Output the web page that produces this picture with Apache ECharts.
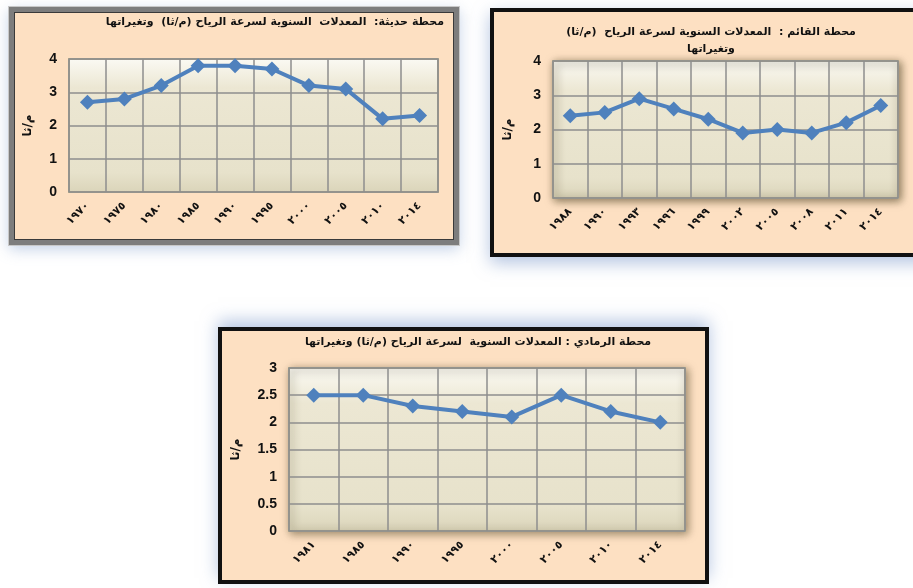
<!DOCTYPE html>
<html>
<head>
<meta charset="utf-8">
<script src="https://cdn.jsdelivr.net/npm/echarts@6/dist/echarts.min.js"></script>
<style>
  html, body { margin: 0; padding: 0; background: #fff; width: 913px; height: 588px; overflow: hidden; position: relative; }
  .box { position: absolute; background: #fde0c2; box-sizing: content-box; }
  #c1 { left: 9px; top: 7px; width: 440px; height: 228px; border: 5px solid #7d7d7d; box-shadow: inset 0 0 0 1px #3a3a3a, 0 0 0 1px #c8c8c8, 0 4px 14px rgba(120,150,200,0.45); }
  #c2 { left: 490px; top: 8px; width: 440px; height: 241px; border: 4px solid #111; box-shadow: 0 6px 16px rgba(120,150,200,0.55); }
  #c3 { left: 218px; top: 327px; width: 483px; height: 249px; border: 4px solid #111; box-shadow: 0 -6px 16px rgba(120,150,200,0.55); }
</style>
</head>
<body>
<div id="c1" class="box"></div>
<div id="c2" class="box"></div>
<div id="c3" class="box"></div>
<script>
// محطة حديثة
var yearsHaditha = ['١٩٧٠', '١٩٧٥', '١٩٨٠', '١٩٨٥', '١٩٩٠', '١٩٩٥', '٢٠٠٠', '٢٠٠٥', '٢٠١٠', '٢٠١٤'];
var windHaditha = [2.7, 2.8, 3.2, 3.8, 3.8, 3.7, 3.2, 3.1, 2.2, 2.3];
// محطة القائم
var yearsQaim = ['١٩٨٨', '١٩٩٠', '١٩٩٣', '١٩٩٦', '١٩٩٩', '٢٠٠٢', '٢٠٠٥', '٢٠٠٨', '٢٠١١', '٢٠١٤'];
var windQaim = [2.4, 2.5, 2.9, 2.6, 2.3, 1.9, 2.0, 1.9, 2.2, 2.7];
// محطة الرمادي
var yearsRamadi = ['١٩٨١', '١٩٨٥', '١٩٩٠', '١٩٩٥', '٢٠٠٠', '٢٠٠٥', '٢٠١٠', '٢٠١٤'];
var windRamadi = [2.5, 2.5, 2.3, 2.2, 2.1, 2.5, 2.2, 2.0];

var unitName = 'م/ثا';

function makeOption(cfg) {
    return {
        animation: false,
        graphic: cfg.titles.map(function (t) {
            return {
                type: 'text', x: t.x, y: t.y,
                style: {
                    text: t.text, font: 'bold 11px "DejaVu Sans", Arial', fill: '#111',
                    align: t.align || 'center', verticalAlign: 'top'
                }
            };
        }),
        grid: {
            left: cfg.grid[0], top: cfg.grid[1], width: cfg.grid[2], height: cfg.grid[3],
            show: true,
            borderColor: '#a9a38a',
            borderWidth: 2,
            shadowColor: cfg.shadow,
            shadowBlur: 8,
            shadowOffsetX: 2,
            shadowOffsetY: 2,
            backgroundColor: {
                type: 'linear', x: 0, y: 0, x2: 0, y2: 1,
                colorStops: [
                    { offset: 0, color: '#fbfaf4' },
                    { offset: 0.22, color: '#ece7d3' },
                    { offset: 0.85, color: '#e7e2cb' },
                    { offset: 1, color: '#dad4b9' }
                ]
            }
        },
        xAxis: {
            type: 'category',
            data: cfg.cats,
            boundaryGap: true,
            axisLine: { show: false },
            axisTick: { show: false },
            axisLabel: {
                rotate: 45, interval: 0, margin: 12,
                color: '#111', fontWeight: 'bold', fontSize: 11, fontFamily: '"DejaVu Sans", Arial'
            },
            splitLine: { show: true, lineStyle: { color: '#8e8e8e', width: 1.5 } }
        },
        yAxis: {
            type: 'value',
            min: 0, max: cfg.max, interval: cfg.interval,
            name: unitName,
            nameLocation: 'middle',
            nameRotate: 90,
            nameGap: cfg.nameGap,
            nameTextStyle: { color: '#111', fontWeight: 'bold', fontSize: 12, fontFamily: '"DejaVu Sans", Arial' },
            axisLine: { show: false },
            axisTick: { show: false },
            axisLabel: { margin: 12, color: '#111', fontWeight: 'bold', fontSize: 14, fontFamily: 'Arial' },
            splitLine: { show: true, lineStyle: { color: '#8e8e8e', width: 1.5 } }
        },
        series: [{
            type: 'line',
            data: cfg.values,
            symbol: 'diamond',
            symbolSize: 15,
            lineStyle: { color: '#4f81bd', width: 4 },
            itemStyle: { color: '#4f81bd' }
        }]
    };
}

var chart1 = echarts.init(document.getElementById('c1'));
chart1.setOption(makeOption({
    titles: [{ text: 'محطة حديثة:  المعدلات  السنوية لسرعة الرياح (م/ثا)  وتغيراتها', x: 430, y: 5, align: 'right' }],
    grid: [51, 47, 373, 133],
    shadow: 'rgba(0,0,0,0)',
    cats: yearsHaditha, values: windHaditha, max: 4, interval: 1, nameGap: 35
}));

var chart2 = echarts.init(document.getElementById('c2'));
chart2.setOption(makeOption({
    titles: [
        { text: 'محطة القائم :  المعدلات السنوية لسرعة الرياح  (م/ثا)', x: 217, y: 15 },
        { text: 'وتغيراتها', x: 217, y: 32 }
    ],
    grid: [57, 49, 347, 137],
    shadow: 'rgba(60,50,20,0.6)',
    cats: yearsQaim, values: windQaim, max: 4, interval: 1, nameGap: 39
}));

var chart3 = echarts.init(document.getElementById('c3'));
chart3.setOption(makeOption({
    titles: [{ text: 'محطة الرمادي : المعدلات السنوية  لسرعة الرياح (م/ثا) وتغيراتها', x: 256, y: 6 }],
    grid: [61, 37, 402, 163],
    shadow: 'rgba(60,50,20,0.5)',
    cats: yearsRamadi, values: windRamadi, max: 3, interval: 0.5, nameGap: 47
}));
</script>
</body>
</html>
